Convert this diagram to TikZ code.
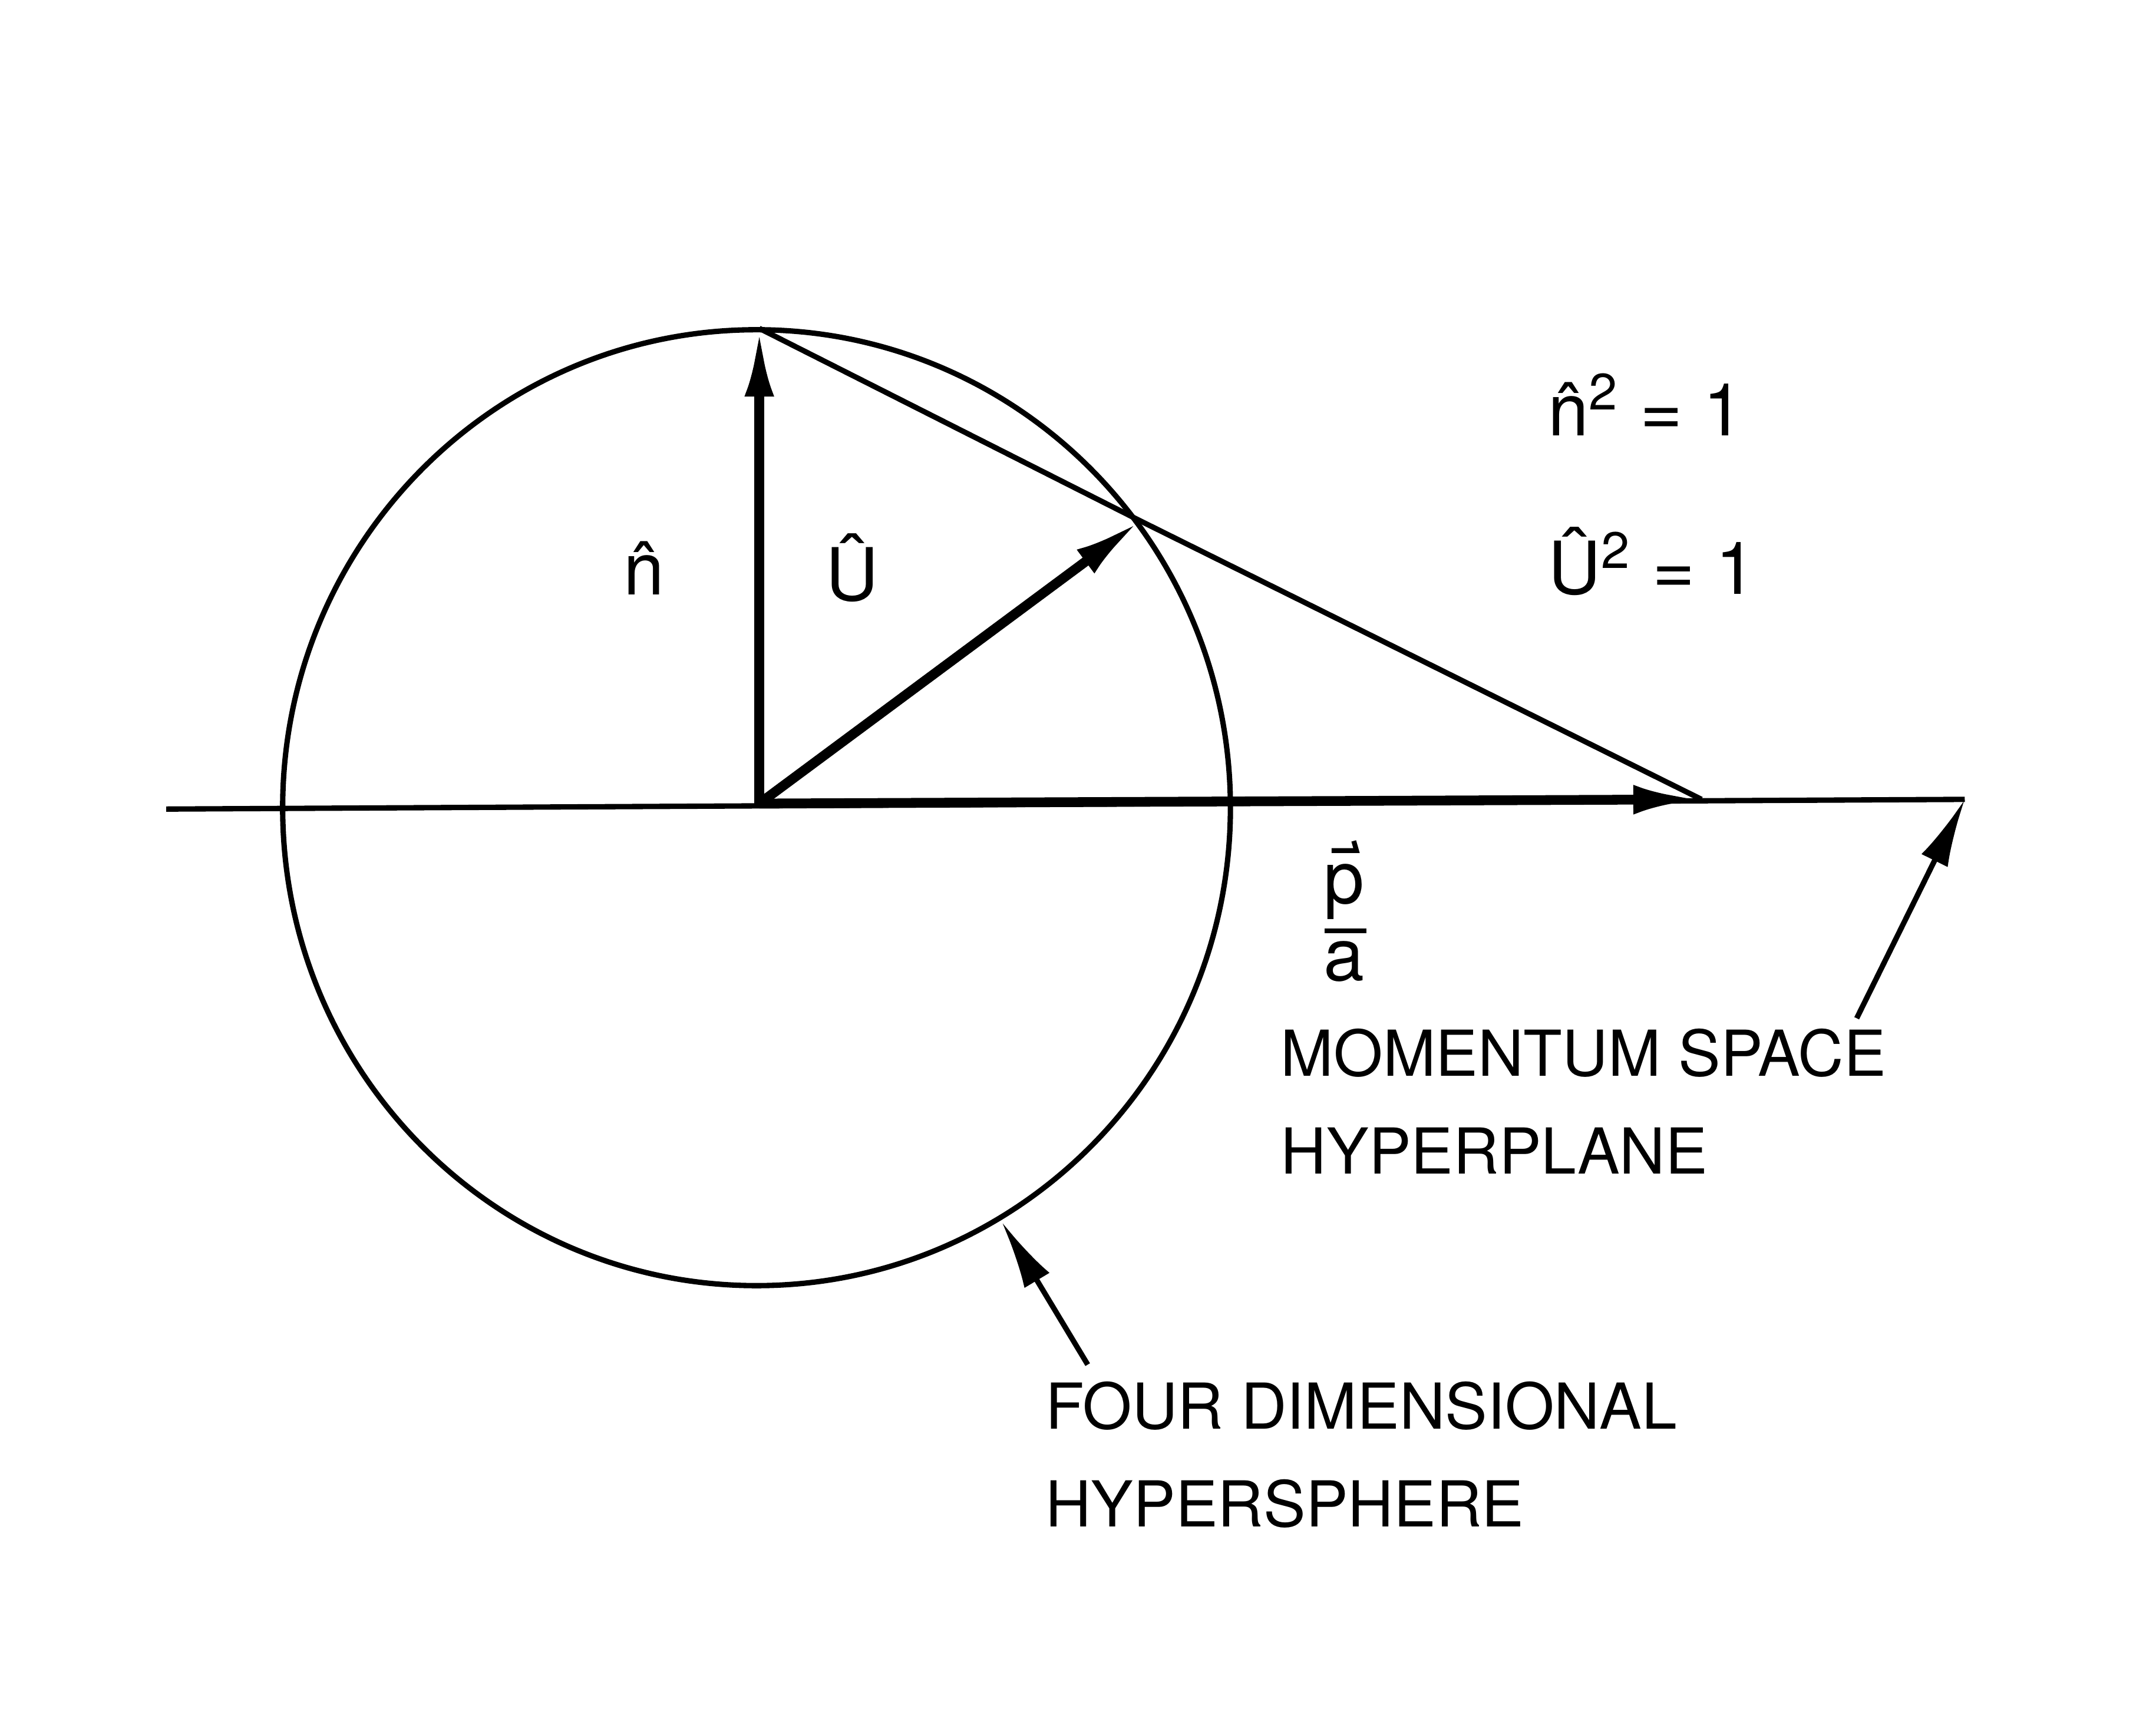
\documentclass[tikz,border=0pt]{standalone}
\usepackage{fontspec}
\setmainfont{TeX Gyre Heros}
\usetikzlibrary{arrows.meta}
\begin{document}
\begin{tikzpicture}[x=0.01cm,y=-0.01cm,
  thin line/.style={line width=1.1pt},
  vec/.style={line width=2pt,-{Latex[length=14pt,width=6pt]}},
  ptr/.style={line width=1.1pt,-{Latex[length=14pt,width=6pt]}},
  lab/.style={font=\fontsize{13}{20}\selectfont,align=left,anchor=west},
  sym/.style={font=\fontsize{15}{18}\selectfont}]
\useasboundingbox (0,0) rectangle (1556,1245);
\coordinate (O) at (548,580);
\coordinate (T) at (548,237);
\coordinate (Q) at (823,376);
\coordinate (P) at (1228,577);
\coordinate (L) at (120,584);
\coordinate (R) at (1418,577);
\draw[thin line] (546,583) circle [x radius=342,y radius=345];
\draw[thin line] (L) -- (R);
\draw[thin line] (T) -- (Q) -- (P);
\draw[vec] (O) -- (T);
\draw[vec] (O) -- (Q);
\draw[vec] (O) -- (P);
\coordinate (a1) at (1340,735);
\draw[ptr] (a1) -- (R);
\coordinate (a2) at (785,985);
\draw[ptr] (a2) -- (723,882);
\node[sym] (n) at (465,410) {\^n};
\node[sym] (u) at (615,410) {\^U};
\node[sym,anchor=west] (n2) at (1105,292) {\^n\textsuperscript{2} = 1};
\node[sym,anchor=west] (u2) at (1105,405) {\^U\textsuperscript{2} = 1};
\node[sym,inner sep=0pt,anchor=base] (pp) at (970,652) {p};
\node[sym,inner sep=0pt,anchor=base] (aa) at (970,708) {a};
\draw[line width=1pt] (956,672) -- (986,672);
\draw[line width=1pt] (961,614) -- (979,614) -- (977,607);
\node[lab] (ms) at (912,795) {MOMENTUM SPACE\\HYPERPLANE};
\node[lab] (fd) at (742,1050) {FOUR DIMENSIONAL\\HYPERSPHERE};
\end{tikzpicture}
\end{document}
